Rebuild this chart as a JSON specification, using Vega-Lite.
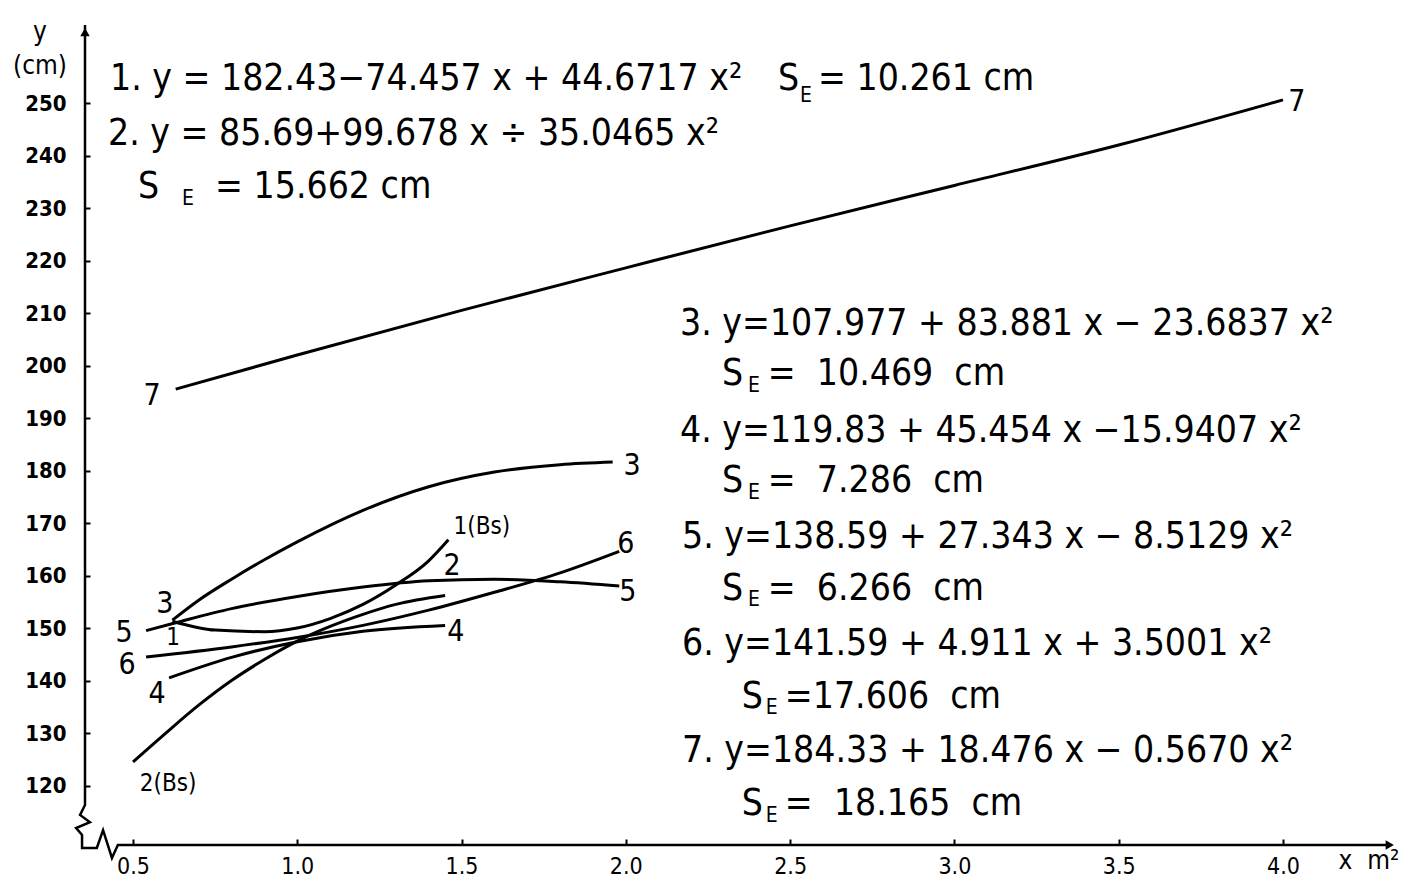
{
  "$schema": "https://vega.github.io/schema/vega-lite/v6.json",
  "width": 1310,
  "height": 820,
  "autosize": {"type": "none"},
  "padding": {"left": 85, "top": 25, "right": 31, "bottom": 37},
  "background": "white",
  "config": {"view": {"stroke": null}},
  "datasets": {
    "frame": [
      {"x": 0.354, "y": 264.86, "o": 1},
      {"x": 0.354, "y": 116.3, "o": 2},
      {"x": 0.339, "y": 114.4, "o": 3},
      {"x": 0.369, "y": 113.0, "o": 4},
      {"x": 0.327, "y": 111.9, "o": 5},
      {"x": 0.345, "y": 110.6, "o": 6},
      {"x": 0.345, "y": 108.1, "o": 7},
      {"x": 0.39, "y": 108.1, "o": 8},
      {"x": 0.409, "y": 111.5, "o": 9},
      {"x": 0.436, "y": 106.2, "o": 10},
      {"x": 0.454, "y": 108.67, "o": 11},
      {"x": 4.33, "y": 108.67, "o": 12}
    ],
    "arrows": [
      {"x": 0.354, "y": 263.5, "s": "triangle-up"},
      {"x": 4.325, "y": 108.67, "s": "triangle-right"}
    ],
    "curves": [
      {"c": "7", "x": 0.63, "y": 195.5},
      {"c": "7", "x": 1.0, "y": 202.0},
      {"c": "7", "x": 1.5, "y": 210.5},
      {"c": "7", "x": 2.0, "y": 218.6},
      {"c": "7", "x": 2.5, "y": 226.6},
      {"c": "7", "x": 3.0, "y": 234.3},
      {"c": "7", "x": 3.5, "y": 242.0},
      {"c": "7", "x": 4.0, "y": 250.6},
      {"c": "3", "x": 0.62, "y": 151.5},
      {"c": "3", "x": 0.7, "y": 155.3},
      {"c": "3", "x": 0.8, "y": 159.3},
      {"c": "3", "x": 0.9, "y": 163.0},
      {"c": "3", "x": 1.0, "y": 166.4},
      {"c": "3", "x": 1.2, "y": 172.4},
      {"c": "3", "x": 1.4, "y": 176.9},
      {"c": "3", "x": 1.6, "y": 179.7},
      {"c": "3", "x": 1.8, "y": 181.1},
      {"c": "3", "x": 1.96, "y": 181.6},
      {"c": "5", "x": 0.54, "y": 149.5},
      {"c": "5", "x": 0.63, "y": 151.0},
      {"c": "5", "x": 0.8, "y": 153.7},
      {"c": "5", "x": 1.0, "y": 156.0},
      {"c": "5", "x": 1.2, "y": 157.8},
      {"c": "5", "x": 1.4, "y": 159.0},
      {"c": "5", "x": 1.6, "y": 159.3},
      {"c": "5", "x": 1.8, "y": 158.8},
      {"c": "5", "x": 1.98, "y": 158.0},
      {"c": "6", "x": 0.54, "y": 144.5},
      {"c": "6", "x": 0.8, "y": 146.4},
      {"c": "6", "x": 1.0, "y": 148.2},
      {"c": "6", "x": 1.2, "y": 150.5},
      {"c": "6", "x": 1.4, "y": 153.4},
      {"c": "6", "x": 1.6, "y": 156.8},
      {"c": "6", "x": 1.8, "y": 160.5},
      {"c": "6", "x": 1.98, "y": 164.6},
      {"c": "4", "x": 0.61, "y": 140.5},
      {"c": "4", "x": 0.8, "y": 144.4},
      {"c": "4", "x": 1.0, "y": 147.4},
      {"c": "4", "x": 1.2, "y": 149.4},
      {"c": "4", "x": 1.45, "y": 150.5},
      {"c": "1", "x": 0.62, "y": 151.3},
      {"c": "1", "x": 0.75, "y": 149.6},
      {"c": "1", "x": 0.9, "y": 149.3},
      {"c": "1", "x": 1.0, "y": 150.0},
      {"c": "1", "x": 1.1, "y": 151.8},
      {"c": "1", "x": 1.2, "y": 154.5},
      {"c": "1", "x": 1.3, "y": 158.2},
      {"c": "1", "x": 1.4, "y": 162.8},
      {"c": "1", "x": 1.46, "y": 166.8},
      {"c": "2", "x": 0.5, "y": 124.5},
      {"c": "2", "x": 0.6, "y": 130.0},
      {"c": "2", "x": 0.7, "y": 135.3},
      {"c": "2", "x": 0.8, "y": 140.0},
      {"c": "2", "x": 0.9, "y": 144.0},
      {"c": "2", "x": 1.0, "y": 147.5},
      {"c": "2", "x": 1.1, "y": 150.3},
      {"c": "2", "x": 1.2, "y": 152.6},
      {"c": "2", "x": 1.3, "y": 154.5},
      {"c": "2", "x": 1.45, "y": 156.2}
    ],
    "eqs": [
      {"t": "1. y = 182.43−74.457 x + 44.6717 x²", "x": 0.43, "y": 252.48},
      {"t": "S", "x": 2.463, "y": 252.48},
      {"t": "= 10.261 cm", "x": 2.585, "y": 252.48},
      {"t": "2. y = 85.69+99.678 x ÷ 35.0465 x²", "x": 0.424, "y": 242.0},
      {"t": "S", "x": 0.515, "y": 231.91},
      {"t": "= 15.662 cm", "x": 0.75, "y": 231.91},
      {"t": "3.  y=107.977 + 83.881 x − 23.6837 x²", "x": 2.165, "y": 205.81},
      {"t": "S", "x": 2.2925, "y": 196.29},
      {"t": "= \u00a010.469 \u00a0cm", "x": 2.432, "y": 196.29},
      {"t": "4.  y=119.83 + 45.454 x −15.9407 x²", "x": 2.165, "y": 185.43},
      {"t": "S", "x": 2.2925, "y": 175.91},
      {"t": "= \u00a07.286 \u00a0cm", "x": 2.432, "y": 175.91},
      {"t": "5.  y=138.59 + 27.343 x − 8.5129 x²", "x": 2.171, "y": 165.24},
      {"t": "S", "x": 2.2925, "y": 155.34},
      {"t": "= \u00a06.266 \u00a0cm", "x": 2.432, "y": 155.34},
      {"t": "6.  y=141.59 + 4.911 x + 3.5001 x²", "x": 2.171, "y": 144.86},
      {"t": "S", "x": 2.353, "y": 134.76},
      {"t": "=17.606 \u00a0cm", "x": 2.484, "y": 134.76},
      {"t": "7.  y=184.33 + 18.476 x − 0.5670 x²", "x": 2.171, "y": 124.48},
      {"t": "S", "x": 2.353, "y": 114.38},
      {"t": "= \u00a018.165 \u00a0cm", "x": 2.484, "y": 114.38}
    ],
    "subs": [
      {"t": "E", "x": 2.53, "y": 250.19},
      {"t": "E", "x": 0.649, "y": 230.57},
      {"t": "E", "x": 2.372, "y": 194.96},
      {"t": "E", "x": 2.372, "y": 174.57},
      {"t": "E", "x": 2.372, "y": 154.19},
      {"t": "E", "x": 2.426, "y": 133.62},
      {"t": "E", "x": 2.426, "y": 113.05}
    ],
    "labels": [
      {"t": "7", "x": 4.042, "y": 250.19},
      {"t": "7", "x": 0.558, "y": 194.2},
      {"t": "3", "x": 2.019, "y": 180.86},
      {"t": "3", "x": 0.597, "y": 154.57},
      {"t": "2", "x": 1.471, "y": 161.81},
      {"t": "6", "x": 2.0, "y": 166.0},
      {"t": "5", "x": 2.006, "y": 156.86},
      {"t": "5", "x": 0.473, "y": 149.05},
      {"t": "6", "x": 0.482, "y": 142.96},
      {"t": "4", "x": 0.573, "y": 137.43},
      {"t": "4", "x": 1.483, "y": 149.24}
    ],
    "small": [
      {"t": "1(Bs)", "x": 1.562, "y": 169.24},
      {"t": "1", "x": 0.622, "y": 148.1},
      {"t": "2(Bs)", "x": 0.607, "y": 120.29}
    ],
    "titles": [
      {"t": "y", "x": 0.217, "y": 263.6},
      {"t": "(cm)", "x": 0.217, "y": 257.0},
      {"t": "x \u00a0m²", "x": 4.262, "y": 105.6}
    ]
  },
  "encoding": {
    "x": {
      "field": "x",
      "type": "quantitative",
      "scale": {"domain": [0.354, 4.341], "nice": false, "zero": false},
      "axis": {
        "title": null,
        "domain": false,
        "values": [0.5, 1.0, 1.5, 2.0, 2.5, 3.0, 3.5, 4.0],
        "format": ".1f",
        "grid": false,
        "tickColor": "black",
        "tickSize": -6,
        "tickWidth": 2,
        "labelFont": "DejaVu Sans Condensed, Roboto Condensed, Roboto",
        "labelFontSize": 23,
        "labelColor": "black",
        "labelPadding": 16
      }
    },
    "y": {
      "field": "y",
      "type": "quantitative",
      "scale": {"domain": [108.67, 264.86], "nice": false, "zero": false},
      "axis": {
        "title": null,
        "domain": false,
        "values": [120, 130, 140, 150, 160, 170, 180, 190, 200, 210, 220, 230, 240, 250],
        "grid": false,
        "tickColor": "black",
        "tickSize": -5,
        "tickWidth": 2,
        "labelFont": "DejaVu Sans Condensed, Roboto Condensed, Roboto",
        "labelFontSize": 22,
        "labelFontWeight": "bold",
        "labelColor": "black",
        "labelPadding": 24
      }
    }
  },
  "layer": [
    {
      "data": {"name": "frame"},
      "mark": {"type": "line", "color": "black", "strokeWidth": 2.5},
      "encoding": {"order": {"field": "o", "type": "quantitative"}}
    },
    {
      "data": {"name": "arrows"},
      "mark": {"type": "point", "filled": true, "color": "black", "size": 90, "opacity": 1},
      "encoding": {"shape": {"field": "s", "type": "nominal", "scale": null}}
    },
    {
      "data": {"name": "curves"},
      "mark": {"type": "line", "color": "black", "strokeWidth": 3, "interpolate": "monotone"},
      "encoding": {"detail": {"field": "c", "type": "nominal"}}
    },
    {
      "data": {"name": "eqs"},
      "mark": {"type": "text", "align": "left", "baseline": "alphabetic", "font": "DejaVu Sans Condensed, Roboto Condensed, Roboto", "fontSize": 37, "color": "black"},
      "encoding": {"text": {"field": "t", "type": "nominal"}}
    },
    {
      "data": {"name": "subs"},
      "mark": {"type": "text", "align": "left", "baseline": "alphabetic", "font": "DejaVu Sans Condensed, Roboto Condensed, Roboto", "fontSize": 21, "color": "black"},
      "encoding": {"text": {"field": "t", "type": "nominal"}}
    },
    {
      "data": {"name": "labels"},
      "mark": {"type": "text", "align": "center", "baseline": "middle", "font": "DejaVu Sans Condensed, Roboto Condensed, Roboto", "fontSize": 30, "color": "black"},
      "encoding": {"text": {"field": "t", "type": "nominal"}}
    },
    {
      "data": {"name": "small"},
      "mark": {"type": "text", "align": "center", "baseline": "middle", "font": "DejaVu Sans Condensed, Roboto Condensed, Roboto", "fontSize": 24, "color": "black"},
      "encoding": {"text": {"field": "t", "type": "nominal"}}
    },
    {
      "data": {"name": "titles"},
      "mark": {"type": "text", "align": "center", "baseline": "middle", "font": "DejaVu Sans Condensed, Roboto Condensed, Roboto", "fontSize": 26, "color": "black"},
      "encoding": {"text": {"field": "t", "type": "nominal"}}
    }
  ]
}
